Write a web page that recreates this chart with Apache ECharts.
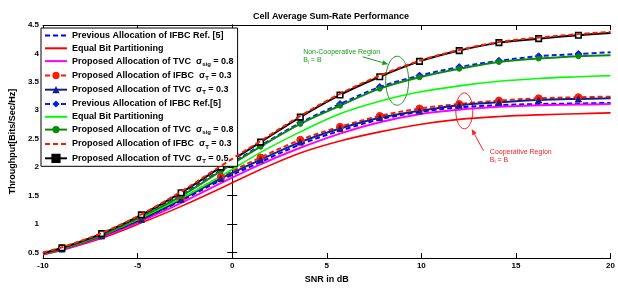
<!DOCTYPE html>
<html>
<head>
<meta charset="utf-8">
<script src="https://cdn.jsdelivr.net/npm/echarts@6/dist/echarts.min.js"></script>
<style>
  html, body { margin: 0; padding: 0; background: #fff; }
  #chart { width: 618px; height: 289px; }
</style>
</head>
<body>
<div id="chart"></div>
<script>
// SNR sample points (markers sit on the inner points)
const snr = [-10, -9, -6.9, -4.8, -2.7, -0.6, 1.5, 3.6, 5.7, 7.8, 9.9, 12, 14.1, 16.2, 18.3, 20]

// cooperative region (lower bundle)
const prevIfbcCoop  = [0.48, 0.56, 0.78, 1.07, 1.41, 1.77, 2.09, 2.40, 2.64, 2.84, 2.97, 3.05, 3.09, 3.11, 3.12, 3.13]
const equalBitCoop  = [0.46, 0.54, 0.75, 1.02, 1.31, 1.63, 1.96, 2.25, 2.46, 2.62, 2.75, 2.84, 2.89, 2.92, 2.94, 2.955]
const tvcSigCoop    = [0.47, 0.55, 0.77, 1.05, 1.37, 1.72, 2.05, 2.34, 2.59, 2.79, 2.93, 3.01, 3.06, 3.09, 3.10, 3.11]
const ifbcT3Coop    = [0.48, 0.57, 0.80, 1.10, 1.45, 1.83, 2.17, 2.48, 2.71, 2.90, 3.03, 3.11, 3.17, 3.21, 3.23, 3.24]
const tvcT3Coop     = [0.48, 0.56, 0.79, 1.08, 1.43, 1.80, 2.13, 2.44, 2.68, 2.87, 2.99, 3.09, 3.14, 3.18, 3.20, 3.21]

// non-cooperative region (upper bundle)
const prevIfbcNon   = [0.49, 0.57, 0.82, 1.14, 1.51, 1.95, 2.38, 2.78, 3.11, 3.41, 3.61, 3.76, 3.87, 3.95, 3.99, 4.02]
const equalBitNon   = [0.48, 0.56, 0.80, 1.11, 1.45, 1.84, 2.26, 2.62, 2.94, 3.16, 3.32, 3.43, 3.51, 3.56, 3.59, 3.61]
const tvcSigNon     = [0.49, 0.57, 0.81, 1.13, 1.49, 1.93, 2.36, 2.76, 3.08, 3.38, 3.58, 3.73, 3.85, 3.91, 3.95, 3.97]
const ifbcT3Non     = [0.50, 0.59, 0.84, 1.17, 1.57, 2.02, 2.46, 2.90, 3.29, 3.61, 3.87, 4.06, 4.20, 4.28, 4.34, 4.38]
const tvcT5Non      = [0.49, 0.58, 0.83, 1.16, 1.55, 2.00, 2.44, 2.88, 3.27, 3.59, 3.86, 4.05, 4.19, 4.26, 4.32, 4.36]

const legendLabels = [
  'Previous Allocation of IFBC Ref. [5]',
  'Equal Bit Partitioning',
  'Proposed Allocation of TVC  σ{s|sig} = 0.8',
  'Proposed Allocation of IFBC  σ{s|T} = 0.3',
  'Proposed Allocation of TVC  σ{s|T} = 0.3',
  'Previous Allocation of IFBC Ref.[5]',
  'Equal Bit Partitioning',
  'Proposed Allocation of TVC  σ{s|sig} = 0.8',
  'Proposed Allocation of IFBC  σ{s|T} = 0.3',
  'Proposed Allocation of TVC  σ{s|T} = 0.5'
]

const xTicks = [-10, -5, 0, 5, 10, 15, 20]
const yTicks = [0.5, 1, 1.5, 2, 2.5, 3, 3.5, 4, 4.5]

const FONT = "'Liberation Sans Narrow', 'Liberation Sans', Arial, sans-serif"
const chart = echarts.init(document.getElementById('chart'))

const toData = (ys, marked) => snr.map((x, i) => {
  const p = { value: [x, ys[i]] }
  if (marked && (i === 0 || i === snr.length - 1)) p.symbol = 'none'
  return p
})

const mk = (idx, ys, color, opts) => {
  const o = opts || {}
  return {
    name: 'series' + idx,
    type: 'line',
    data: toData(ys, !!o.symbol),
    smooth: 0.35,
    symbol: o.symbol || 'none',
    symbolSize: o.size || 6,
    showSymbol: !!o.symbol,
    lineStyle: { color, width: o.width || 2, type: o.dash ? [5, 3] : 'solid' },
    itemStyle: o.itemStyle || { color, borderColor: color },
    z: o.z || 2,
    silent: true
  }
}

const series = [
  mk(0, prevIfbcCoop, '#0000ff', { dash: true }),
  mk(1, equalBitCoop, '#ff0000', { width: 1.6 }),
  mk(2, tvcSigCoop, '#ff00ff', {}),
  mk(3, ifbcT3Coop, '#ff1a00', { dash: true, symbol: 'circle', size: 7 }),
  mk(4, tvcT3Coop, '#12208c', { symbol: 'triangle', size: 6 }),
  mk(5, prevIfbcNon, '#0a1aff', { dash: true, symbol: 'diamond', size: 7 }),
  mk(6, equalBitNon, '#00ff00', { width: 1.6 }),
  mk(7, tvcSigNon, '#0a8a0a', { symbol: 'circle', size: 5 }),
  mk(8, ifbcT3Non, '#ff1a00', { dash: true, z: 4 }),
  mk(9, tvcT5Non, '#000000', { symbol: 'rect', size: 5.5, z: 3,
    itemStyle: { color: '#ffffff', borderColor: '#000000', borderWidth: 1.6 } })
]

const labelOf = {}
series.forEach((s, i) => { labelOf[s.name] = legendLabels[i] })

// legend entries: plain lines get no symbol
const legendItems = series.map(s => s.showSymbol
  ? { name: s.name }
  : { name: s.name, itemStyle: { opacity: 0 } })
legendItems[9].itemStyle = { color: '#000' }

const axisText = { color: '#000', fontFamily: FONT, fontWeight: 'bold', fontSize: 8 }

chart.setOption({
  animation: false,
  backgroundColor: '#fff',
  title: {
    text: 'Cell Average Sum-Rate Performance',
    left: 326,
    textAlign: 'center',
    top: 7,
    textStyle: { fontFamily: FONT, fontWeight: 'bold', fontSize: 9, color: '#000' }
  },
  grid: { left: 38, right: 4, top: 25, bottom: 22, containLabel: false },
  legend: {
    orient: 'vertical',
    left: 41,
    top: 28,
    data: legendItems,
    formatter: name => labelOf[name],
    itemWidth: 22,
    itemHeight: 9,
    itemGap: 3.8,
    padding: [3, 4, 2, 3],
    backgroundColor: '#fff',
    borderColor: '#000',
    borderWidth: 1,
    selectedMode: false,
    textStyle: {
      fontFamily: FONT, fontWeight: 'bold', fontSize: 9, color: '#000',
      rich: { s: { fontFamily: FONT, fontWeight: 'bold', fontSize: 6, color: '#000', padding: [6, 0, 0, 0] } }
    }
  },
  xAxis: [
    {
      type: 'value', min: -10, max: 20, interval: 5,
      name: 'SNR in dB', nameLocation: 'middle', nameGap: 16,
      nameTextStyle: { fontFamily: FONT, fontWeight: 'bold', fontSize: 9, color: '#000' },
      axisLine: { lineStyle: { color: '#000', width: 1 } },
      axisTick: { inside: true, length: 5, lineStyle: { color: '#000' } },
      axisLabel: Object.assign({ margin: 4, customValues: xTicks }, axisText),
      splitLine: { show: false }
    },
    {
      type: 'value', min: -10, max: 20, interval: 5, position: 'top',
      axisLine: { lineStyle: { color: '#000', width: 1 } },
      axisTick: { inside: true, length: 5, lineStyle: { color: '#000' } },
      axisLabel: { show: false },
      splitLine: { show: false }
    }
  ],
  yAxis: [
    {
      type: 'value', min: 0.4, max: 4.5,
      name: 'Throughput[Bits/Sec/Hz]', nameLocation: 'middle', nameGap: 26,
      nameTextStyle: { fontFamily: FONT, fontWeight: 'bold', fontSize: 9, color: '#000' },
      axisLine: { show: true, lineStyle: { color: '#000', width: 1 } },
      axisTick: { inside: true, length: 5, customValues: yTicks, lineStyle: { color: '#000' } },
      axisLabel: Object.assign({ margin: 4, customValues: yTicks, formatter: v => String(v) }, axisText),
      splitLine: { show: false }
    },
    {
      type: 'value', min: 0.4, max: 4.5, position: 'right',
      axisLine: { show: true, lineStyle: { color: '#000', width: 1 } },
      axisTick: { inside: true, length: 5, customValues: yTicks, lineStyle: { color: '#000' } },
      axisLabel: { show: false },
      splitLine: { show: false }
    }
  ],
  series
})

// annotations, anchored in data coordinates
const px = (x, y) => chart.convertToPixel({ xAxisIndex: 0, yAxisIndex: 0 }, [x, y])
const GREEN = '#1a9a1a'
const RED = '#ff2020'

const arrow = (from, to, color) => {
  const a = px(from[0], from[1]), b = px(to[0], to[1])
  const dx = b[0] - a[0], dy = b[1] - a[1]
  const len = Math.sqrt(dx * dx + dy * dy), ux = dx / len, uy = dy / len
  const h = 6, w = 2.5
  const base = [b[0] - ux * h, b[1] - uy * h]
  return [
    { type: 'line', shape: { x1: a[0], y1: a[1], x2: base[0], y2: base[1] }, style: { stroke: color, lineWidth: 1 } },
    { type: 'polygon', shape: { points: [b, [base[0] - uy * w, base[1] + ux * w], [base[0] + uy * w, base[1] - ux * w]] }, style: { fill: color } }
  ]
}

const ellipse = (c, rx, ry, color) => {
  const p = px(c[0], c[1])
  return { type: 'ellipse', shape: { cx: p[0], cy: p[1], rx, ry }, style: { fill: 'none', stroke: color, lineWidth: 1 } }
}

const note = (at, title, color) => {
  const p = px(at[0], at[1])
  return {
    type: 'text', x: p[0], y: p[1],
    style: {
      text: title + '\nB{i|i} = B',
      fill: color, fontFamily: FONT, fontSize: 7, lineHeight: 8,
      rich: { i: { fill: color, fontFamily: FONT, fontSize: 5, padding: [4, 0, 0, 0] } }
    }
  }
}

chart.setOption({
  graphic: [
    note([3.75, 4.09], 'Non-Cooperative Region', GREEN),
    ...arrow([6.9, 3.94], [8.25, 3.81], GREEN),
    ellipse([8.72, 3.52], 11.5, 24.5, GREEN),
    note([13.62, 2.34], 'Cooperative Region', RED),
    ...arrow([13.28, 2.29], [12.66, 2.67], RED),
    ellipse([12.27, 2.99], 8.5, 18, RED)
  ]
})
</script>
</body>
</html>
